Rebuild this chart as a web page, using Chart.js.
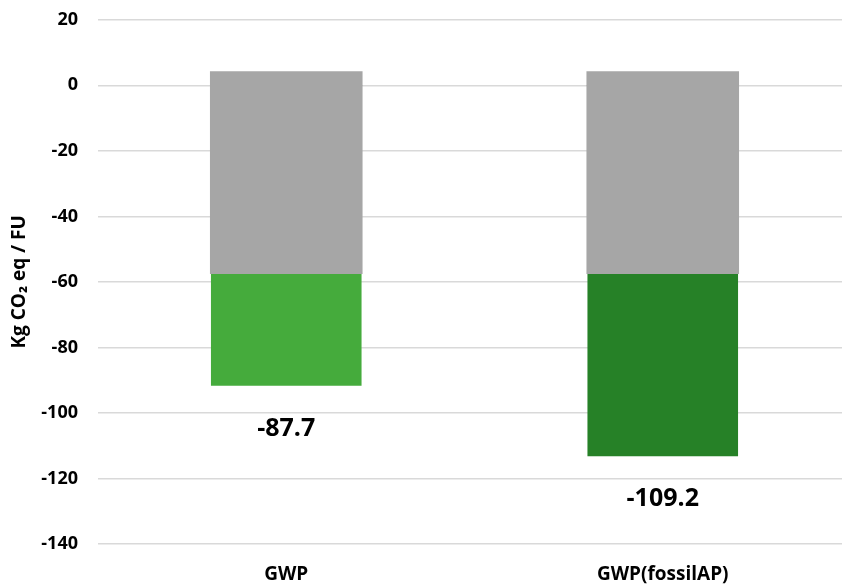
<!DOCTYPE html>
<html>
<head>
<meta charset="utf-8">
<script src="https://cdn.jsdelivr.net/npm/chart.js@4/dist/chart.umd.min.js"></script>
<style>
  html, body { margin: 0; padding: 0; background: #fff; overflow: hidden; }
  #wrap { width: 842px; height: 586px; overflow: hidden; position: relative; }
  #myChart { position: absolute; left: 0; top: -11px; }
</style>
</head>
<body>
<div id="wrap"><canvas id="myChart" width="851" height="597"></canvas></div>
<script>
// カテゴリ
const categories = ['GWP', 'GWP(fossilAP)'];
// 系列の値
const grayPositive = [4.0, 4.0];
const grayNegative = [-57.3, -57.3];
const greenPart = [-34.4, -55.9];
const netTotals = [-87.7, -109.2];
// 目盛り
const yMin = -140;
const yMax = 20;
const yStep = 20;

const greenColors = ['#45AB3C', '#268127'];
const grayColor = '#A6A6A6';
const fontFamily = '"Open Sans", Lato, sans-serif';

// 合計ラベルを棒の下に描くプラグイン
const totalLabels = {
    id: 'totalLabels',
    afterDatasetsDraw(chart) {
        const ctx = chart.ctx;
        const meta = chart.getDatasetMeta(2);
        ctx.save();
        ctx.fillStyle = '#000';
        ctx.font = 'bold 25px ' + fontFamily;
        ctx.textAlign = 'center';
        ctx.textBaseline = 'middle';
        meta.data.forEach((bar, i) => {
            ctx.fillText(netTotals[i].toFixed(1), bar.x, bar.y + 43);
        });
        ctx.restore();
    }
};

const ctx = document.getElementById('myChart').getContext('2d');
new Chart(ctx, {
    type: 'bar',
    data: {
        labels: categories,
        datasets: [
            { label: 'pos', data: grayPositive, backgroundColor: grayColor, stack: 's', inflateAmount: 1 },
            { label: 'neg', data: grayNegative, backgroundColor: grayColor, stack: 's', inflateAmount: 1 },
            { label: 'green', data: greenPart, backgroundColor: greenColors, stack: 's' }
        ]
    },
    options: {
        responsive: false,
        animation: false,
        layout: { padding: 0 },
        datasets: {
            bar: { barPercentage: 1.0, categoryPercentage: 0.4, borderWidth: 0 }
        },
        scales: {
            x: {
                stacked: true,
                grid: { display: false },
                border: { display: false },
                ticks: {
                    color: '#000',
                    font: { family: fontFamily, size: 19, weight: 'bold' },
                    padding: 11
                },
                afterFit(scale) { scale.height = 42; }
            },
            y: {
                stacked: true,
                min: yMin,
                max: yMax,
                grid: { color: '#D9D9D9', lineWidth: 1.5, drawTicks: false },
                border: { display: false },
                ticks: {
                    stepSize: yStep,
                    color: '#000',
                    padding: 20,
                    font: { family: fontFamily, size: 18, weight: 'bold' }
                },
                title: {
                    display: true,
                    text: 'Kg CO₂ eq / FU',
                    color: '#000',
                    font: { family: fontFamily, size: 19, weight: 'bold' },
                    padding: { top: 8, bottom: 4 }
                },
                afterFit(scale) { scale.width = 98; }
            }
        },
        plugins: {
            legend: { display: false },
            tooltip: { enabled: false }
        }
    },
    plugins: [totalLabels]
});
</script>
</body>
</html>
